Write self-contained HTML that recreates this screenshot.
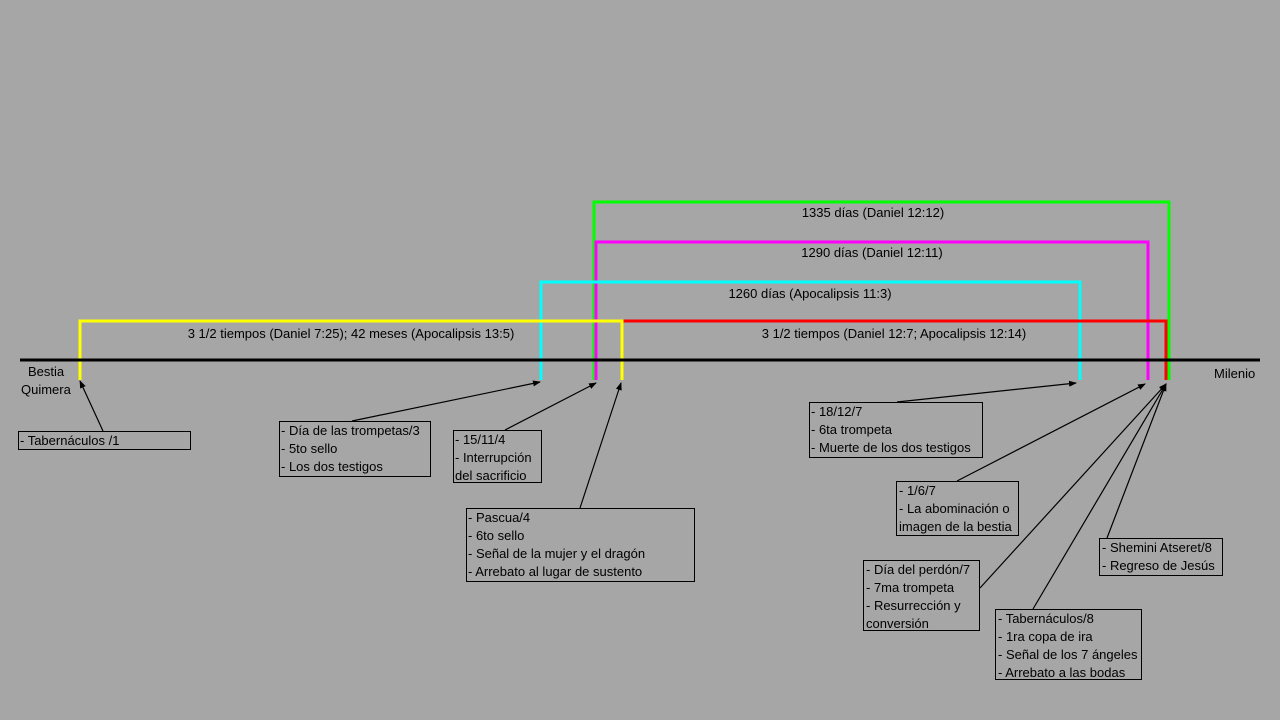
<!DOCTYPE html>
<html><head><meta charset="utf-8"><style>
html,body{margin:0;padding:0;background:#a6a6a6;}
svg{display:block}
text{font-family:"Liberation Sans",sans-serif;font-size:13px;fill:#000}
</style></head><body>
<svg width="1280" height="720" viewBox="0 0 1280 720">
<defs><marker id="a" markerWidth="8" markerHeight="8" refX="7" refY="4" orient="auto" markerUnits="userSpaceOnUse"><path d="M0,1 L8,4 L0,7 Z" fill="#000"/></marker></defs>
<g fill="none" stroke-width="3">
<polyline points="594,380 594,202 1169,202 1169,380" stroke="#00ff00"/>
<polyline points="596,380 596,242 1148,242 1148,380" stroke="#ff00ff"/>
<polyline points="541,380 541,282 1080,282 1080,380" stroke="#00ffff"/>
<polyline points="622,321 1166,321 1166,380" stroke="#ff0000"/>
<polyline points="80,380 80,321 622,321 622,380" stroke="#ffff00"/>
</g>
<line x1="20" y1="360" x2="1260" y2="360" stroke="#000" stroke-width="3"/>
<text x="873" y="217" text-anchor="middle">1335 días (Daniel 12:12)</text>
<text x="872" y="257" text-anchor="middle">1290 días (Daniel 12:11)</text>
<text x="810" y="298" text-anchor="middle">1260 días (Apocalipsis 11:3)</text>
<text x="351" y="338" text-anchor="middle">3 1/2 tiempos (Daniel  7:25); 42 meses (Apocalipsis 13:5)</text>
<text x="894" y="338" text-anchor="middle">3 1/2 tiempos (Daniel 12:7; Apocalipsis 12:14)</text>
<text x="28" y="376">Bestia</text>
<text x="21" y="394">Quimera</text>
<text x="1214" y="378">Milenio</text>
<g stroke="#000" stroke-width="1.2" marker-end="url(#a)">
<line x1="103" y1="431" x2="80" y2="381"/>
<line x1="352" y1="421" x2="540" y2="382"/>
<line x1="505" y1="430" x2="596" y2="383"/>
<line x1="580" y1="508" x2="621" y2="383"/>
<line x1="897" y1="402" x2="1076" y2="383"/>
<line x1="957" y1="481" x2="1145" y2="384"/>
<line x1="980" y1="588" x2="1166" y2="384"/>
<line x1="1033" y1="609" x2="1166" y2="384"/>
<line x1="1107" y1="538" x2="1166" y2="384"/>
</g>
<g fill="none" stroke="#000" stroke-width="1">
<rect x="18.5" y="431.5" width="172" height="18"/>
<rect x="279.5" y="421.5" width="151" height="55"/>
<rect x="453.5" y="430.5" width="88" height="52"/>
<rect x="466.5" y="508.5" width="228" height="73"/>
<rect x="809.5" y="402.5" width="173" height="55"/>
<rect x="896.5" y="481.5" width="122" height="54"/>
<rect x="863.5" y="560.5" width="116" height="70"/>
<rect x="995.5" y="609.5" width="146" height="70"/>
<rect x="1099.5" y="538.5" width="123" height="37"/>
</g>
<text x="20" y="445">- Tabernáculos /1</text>
<text x="281" y="435">- Día de las trompetas/3</text>
<text x="281" y="453">- 5to sello</text>
<text x="281" y="471">- Los dos testigos</text>
<text x="455" y="444">- 15/11/4</text>
<text x="455" y="462">- Interrupción</text>
<text x="455" y="480">del sacrificio</text>
<text x="468" y="522">- Pascua/4</text>
<text x="468" y="540">- 6to sello</text>
<text x="468" y="558">- Señal de la mujer y el dragón</text>
<text x="468" y="576">- Arrebato al lugar de sustento</text>
<text x="811" y="416">- 18/12/7</text>
<text x="811" y="434">- 6ta trompeta</text>
<text x="811" y="452">- Muerte de los dos testigos</text>
<text x="899" y="495">- 1/6/7</text>
<text x="899" y="513">- La abominación o</text>
<text x="899" y="531">imagen de la bestia</text>
<text x="866" y="574">- Día del perdón/7</text>
<text x="866" y="592">- 7ma trompeta</text>
<text x="866" y="610">- Resurrección y</text>
<text x="866" y="628">conversión</text>
<text x="998" y="623">- Tabernáculos/8</text>
<text x="998" y="641">- 1ra copa de ira</text>
<text x="998" y="659">- Señal de los 7 ángeles</text>
<text x="998" y="677">- Arrebato a las bodas</text>
<text x="1102" y="552">- Shemini Atseret/8</text>
<text x="1102" y="570">- Regreso de Jesús</text>
</svg>
</body></html>
